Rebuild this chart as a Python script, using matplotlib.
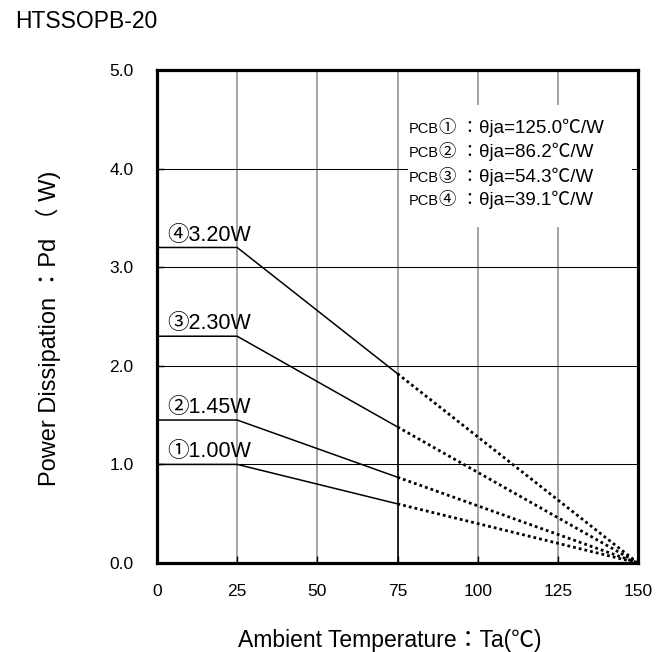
import matplotlib
matplotlib.use("Agg")
import matplotlib.pyplot as plt
from matplotlib.offsetbox import TextArea, HPacker, AnnotationBbox
from matplotlib.patches import Rectangle

plt.rcParams['font.family'] = ['Liberation Sans', 'Noto Sans CJK JP', 'DejaVu Sans']

# Dados
ta_solid = [0, 25, 75]          # trecho continuo
ta_dot = [75, 150]              # trecho pontilhado
marcas = ["①", "②", "③", "④"]
pd_max = [1.00, 1.45, 2.30, 3.20]
pd_75 = [0.60, 0.87, 1.38, 1.92]
pd_150 = [0.0, 0.0, 0.0, 0.0]
theta_ja = ["125.0", "86.2", "54.3", "39.1"]
xticks = [0, 25, 50, 75, 100, 125, 150]
yticks = [0.0, 1.0, 2.0, 3.0, 4.0, 5.0]

fig = plt.figure(figsize=(6.69, 6.52), dpi=100)
ax = fig.add_axes([157/669, 1-563/652, 481/669, 493/652])
ax.set_xlim(0, 150)
ax.set_ylim(0, 5)

# grade
for x in xticks[1:-1]:
    ax.axvline(x, color="#8c8c8c", lw=1.1, zorder=0.5)
for y in yticks[1:-1]:
    ax.axhline(y, color="black", lw=0.75, zorder=0.6)

# linha vertical em 75 ate a curva 4
ax.plot([ta_solid[2], ta_solid[2]], [0, max(pd_75)], color="black", lw=1.1, zorder=2)

# curvas
for m, p, p75, p150 in zip(marcas, pd_max, pd_75, pd_150):
    ax.plot(ta_solid, [p, p, p75], color="black", lw=1.1, zorder=2)
    ax.plot(ta_dot, [p75, p150], color="black", lw=2.0, ls=(0, (1, 1.1)), zorder=2)
    ax.annotate(f"{m}{p:.2f}W", xy=(3.2, p), xytext=(0, 5), textcoords="offset points",
                fontsize=15.5, ha="left", va="baseline", zorder=3)

# caixa da legenda
ax.add_patch(Rectangle((0.522, 0.6815), 0.466, 0.2475, transform=ax.transAxes,
                       facecolor="white", edgecolor="none", zorder=1.5))
ys = [0.882, 0.834, 0.784, 0.736]
for m, t, y in zip(marcas, theta_ja, ys):
    box = HPacker(children=[
        TextArea("PCB", textprops=dict(fontsize=10.5)),
        TextArea(f"{m} ：", textprops=dict(fontsize=12.5)),
        TextArea(f"θja={t}℃/W", textprops=dict(fontsize=13.5)),
    ], align="baseline", pad=0, sep=0)
    ab = AnnotationBbox(box, (0.524, y), xycoords="axes fraction", box_alignment=(0, 0.5),
                        frameon=False, pad=0, zorder=3)
    ax.add_artist(ab)

ax.set_xticks(xticks)
ax.set_xticklabels([str(x) for x in xticks])
ax.set_yticks(yticks)
ax.set_yticklabels([f"{y:.1f}" for y in yticks])
ax.tick_params(axis="x", direction="in", length=5, width=1, pad=15, labelsize=12.5)
ax.tick_params(axis="y", direction="in", length=5, width=1, pad=17, labelsize=12.5)
for s in ax.spines.values():
    s.set_linewidth(2.3)
    s.set_zorder(5)

fig.text(15/669, 1-21/652, "HTSSOPB-20", fontsize=16.5, ha="left", va="center")
fig.text(390/669, 1-640/652, "Ambient Temperature：Ta(℃)", fontsize=16.5, ha="center", va="center")
fig.text(48/669, 1-328/652, "Power Dissipation ：Pd （ W)", fontsize=17, ha="center", va="center",
         rotation=90)

fig.savefig("out.png", dpi=100)
